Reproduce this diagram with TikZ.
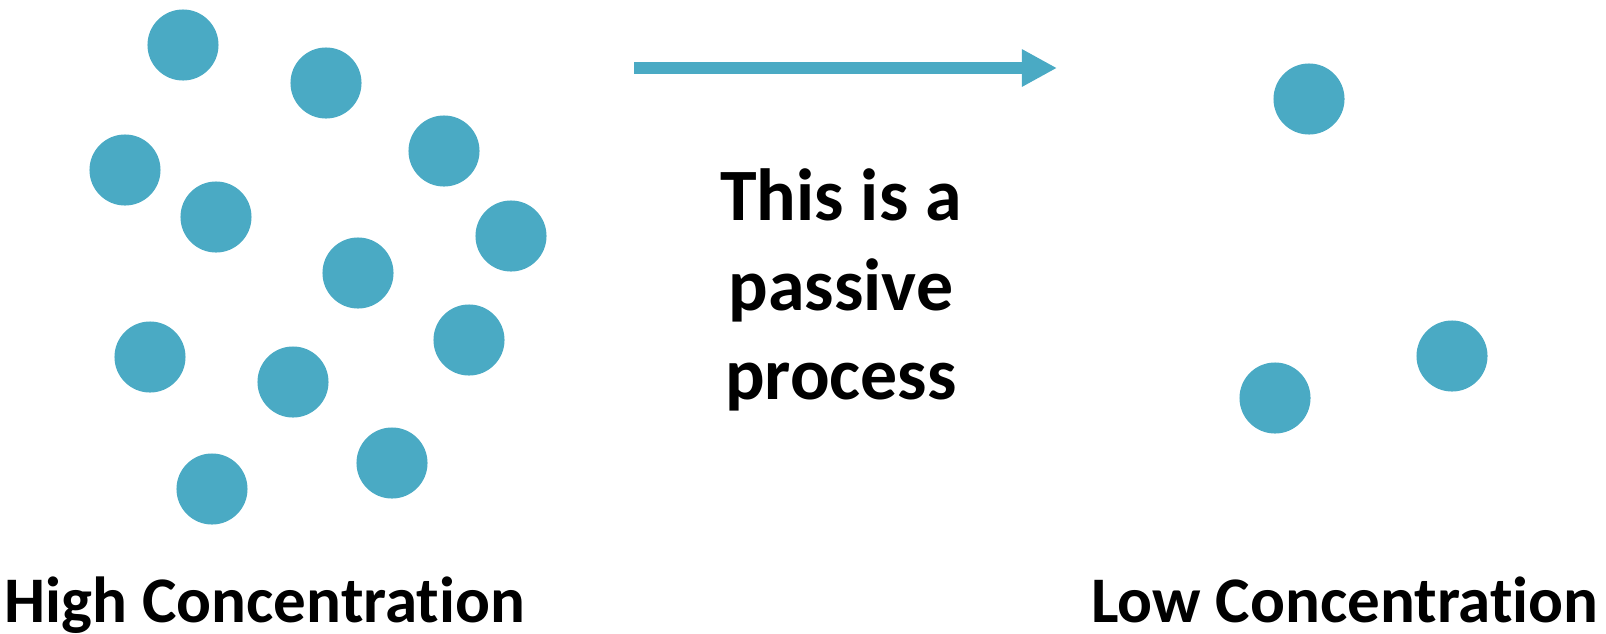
\documentclass[tikz,border=0pt]{standalone}
\usepackage{fontspec}
\setmainfont{Carlito}[Ligatures=NoCommon]
\usetikzlibrary{arrows.meta}

\definecolor{particle}{RGB}{74,170,196}

\begin{document}
\begin{tikzpicture}
        [x=.01cm,y=-.01cm,every node/.style={circle,fill=particle,minimum size=7.1mm,inner sep=0pt}]
        \useasboundingbox (0,0) rectangle (1606,633);
        % crowded side
        \node (a1) at (183,45) {};
        \node (a2) at (326,83) {};
        \node (a3) at (125,170) {};
        \node (a4) at (444,151) {};
        \node (a5) at (216,217) {};
        \node (a6) at (511,236) {};
        \node (a7) at (358,273) {};
        \node (a8) at (150,357) {};
        \node (a9) at (469,340) {};
        \node (a10) at (293,382) {};
        \node (a11) at (392,463) {};
        \node (a12) at (212,489) {};
        % sparse side
        \node (b1) at (1309,99) {};
        \node (b2) at (1452,356) {};
        \node (b3) at (1275,398) {};
        \tikzset{LabelStyle/.style =   {shape          = rectangle,
                                  fill           = none,
                                  text           = black,
                                  inner sep      = 0pt,
                                  font           = \bfseries\fontsize{21}{25.5}\selectfont}}
        \coordinate (From) at (634,68);
        \coordinate (To) at (1057,68);
        \draw[-{Triangle[length=3.5mm,width=3.5mm]}, line width=1.2mm, particle] (From) -- (To);
        \node[LabelStyle, align=center] (Passive) at (841,290) {This is a\\passive\\process};
        \node[LabelStyle, anchor=base, font=\bfseries\fontsize{18.5}{22}\selectfont] (High) at (265,622) {High Concentration};
        \node[LabelStyle, anchor=base, font=\bfseries\fontsize{18.5}{22}\selectfont] (Low) at (1345,622) {Low Concentration};
    \end{tikzpicture}
\end{document}
